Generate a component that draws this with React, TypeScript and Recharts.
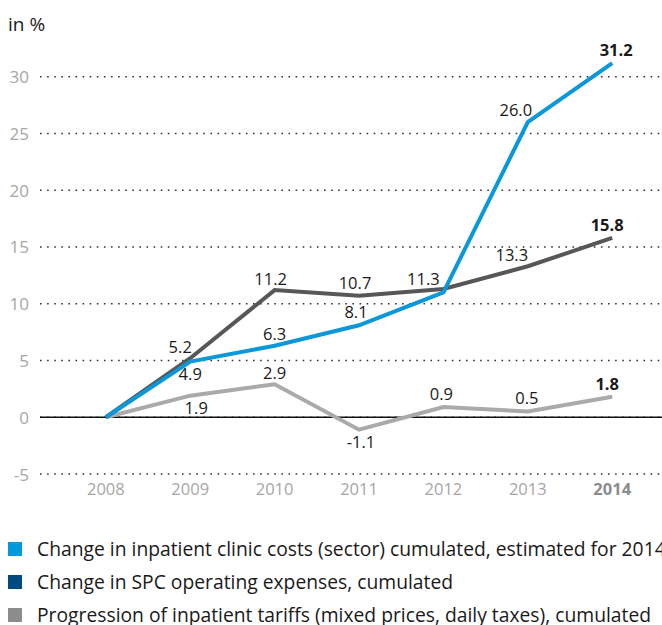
import React from "react";
import {
  LineChart,
  Line,
  XAxis,
  YAxis,
  CartesianGrid,
  ReferenceLine,
  LabelList,
} from "recharts";

const years = [2008, 2009, 2010, 2011, 2012, 2013, 2014];
const clinicCosts = [0, 4.9, 6.3, 8.1, 11.0, 26.0, 31.2];
const spcExpenses = [0, 5.2, 11.2, 10.7, 11.3, 13.3, 15.8];
const tariffs = [0, 1.9, 2.9, -1.1, 0.9, 0.5, 1.8];
const yTicks = [-5, 0, 5, 10, 15, 20, 25, 30];

// which points carry a value label (null = none)
const clinicLabels = [null, "4.9", "6.3", "8.1", null, "26.0", "31.2"];
const spcLabels = [null, "5.2", "11.2", "10.7", "11.3", "13.3", "15.8"];
const tariffLabels = [null, "1.9", "2.9", "-1.1", "0.9", "0.5", "1.8"];

// label offsets from the point: [dx, dy] to the text centre
const clinicOffsets = [[0, 0], [0, 12], [0, -12], [-3, -14], [0, 0], [-12, -13], [4, -14]];
const spcOffsets = [[0, 0], [-10, -12], [-4, -12], [-4, -13], [-20, -10], [-16, -12], [-5, -13]];
const tariffOffsets = [[0, 0], [6, 12], [0, -12], [2, 12], [-2, -14], [-1, -14], [-5, -13]];

const legendItems = [
  { color: "#0099dd", text: "Change in inpatient clinic costs (sector) cumulated, estimated for 2014" },
  { color: "#004a80", text: "Change in SPC operating expenses, cumulated" },
  { color: "#8c8c8c", text: "Progression of inpatient tariffs (mixed prices, daily taxes), cumulated" },
];

const data = years.map((y, i) => ({
  year: y,
  clinic: clinicCosts[i],
  spc: spcExpenses[i],
  tariff: tariffs[i],
}));

const FONT = "'Open Sans', 'Noto Sans', sans-serif";

function makeLabel(labels: (string | null)[], offsets: number[][]) {
  return (props: any) => {
    const { x, y, index } = props;
    const txt = labels[index];
    if (!txt) return null;
    const [dx, dy] = offsets[index];
    const last = index === years.length - 1;
    return (
      <text
        x={x + dx}
        y={y + dy}
        textAnchor="middle"
        dominantBaseline="central"
        fontSize={16.5}
        fontFamily={FONT}
        fontWeight={last ? 700 : 400}
        fill="#1a1a1a"
      >
        {txt}
      </text>
    );
  };
}

function YTick({ y, payload }: any) {
  return (
    <text
      x={29}
      y={y}
      textAnchor="end"
      dominantBaseline="central"
      fontSize={17}
      fontFamily={FONT}
      fill="#a6a6a6"
    >
      {payload.value}
    </text>
  );
}

function XTick({ x, y, payload }: any) {
  const last = payload.value === 2014;
  return (
    <text
      x={x}
      y={y + 6}
      textAnchor="middle"
      dominantBaseline="central"
      fontSize={16.5}
      fontFamily={FONT}
      fontWeight={last ? 700 : 400}
      fill={last ? "#8c8c8c" : "#a6a6a6"}
    >
      {payload.value}
    </text>
  );
}

export default function App() {
  return (
    <div
      style={{
        position: "absolute",
        left: 0,
        top: 0,
        width: 662,
        height: 625,
        overflow: "hidden",
        background: "#fff",
        fontFamily: FONT,
      }}
    >
      <div style={{ position: "absolute", left: 8, top: 11, fontSize: 19, color: "#1a1a1a" }}>
        in %
      </div>

      <LineChart
        width={662}
        height={510}
        data={data}
        margin={{ top: 54, right: 0, bottom: 6, left: 0 }}
      >
        <CartesianGrid
          horizontal
          vertical={false}
          horizontalValues={yTicks}
          stroke="#333"
          strokeWidth={1.6}
          strokeDasharray="1.6 5.5"
        />
        <XAxis
          dataKey="year"
          type="number"
          domain={[2007.22, 2014.59]}
          ticks={years}
          axisLine={false}
          tickLine={false}
          height={30}
          tick={<XTick />}
        />
        <YAxis
          type="number"
          domain={[-5, 32]}
          allowDataOverflow
          ticks={yTicks}
          width={40}
          axisLine={false}
          tickLine={false}
          tick={<YTick />}
        />
        <ReferenceLine y={0} stroke="#111" strokeWidth={1.5} />
        <Line
          dataKey="tariff"
          stroke="#aaaaad"
          strokeWidth={4}
          dot={false}
          isAnimationActive={false}
        >
          <LabelList content={makeLabel(tariffLabels, tariffOffsets)} />
        </Line>
        <Line
          dataKey="spc"
          stroke="#575757"
          strokeWidth={4}
          dot={false}
          isAnimationActive={false}
        >
          <LabelList content={makeLabel(spcLabels, spcOffsets)} />
        </Line>
        <Line
          dataKey="clinic"
          stroke="#0a98da"
          strokeWidth={4}
          dot={false}
          isAnimationActive={false}
        >
          <LabelList content={makeLabel(clinicLabels, clinicOffsets)} />
        </Line>
      </LineChart>

      {legendItems.map((it, i) => (
        <div
          key={i}
          style={{
            position: "absolute",
            left: 8,
            top: 535 + i * 33,
            display: "flex",
            alignItems: "center",
            whiteSpace: "nowrap",
            fontSize: 19.3,
            color: "#1a1a1a",
          }}
        >
          <span
            style={{
              display: "inline-block",
              width: 14,
              height: 14,
              background: it.color,
              marginRight: 15,
            }}
          />
          {it.text}
        </div>
      ))}
    </div>
  );
}
